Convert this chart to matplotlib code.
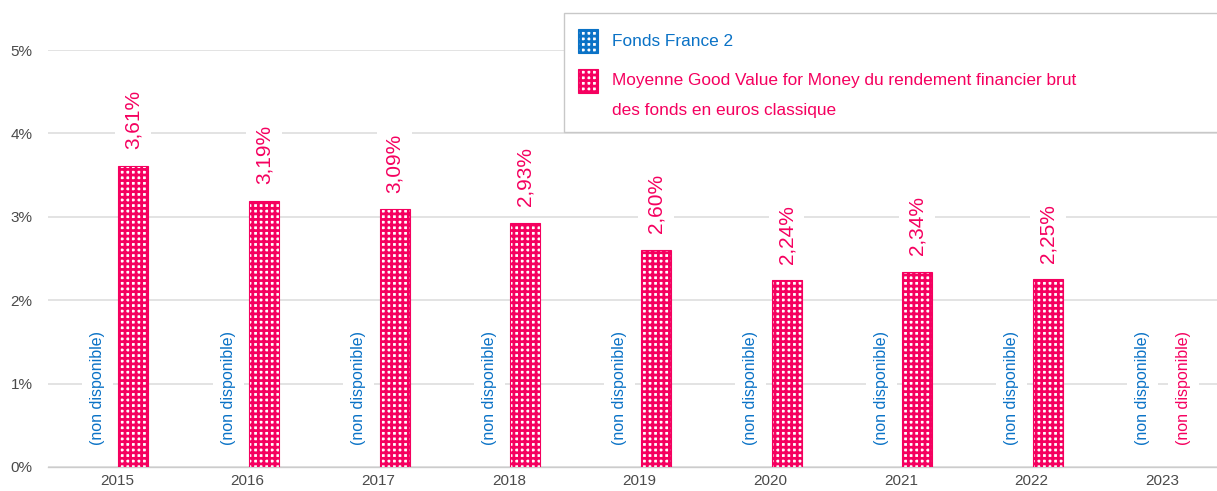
import matplotlib
matplotlib.use("Agg")
import matplotlib.pyplot as plt
from matplotlib.patches import Rectangle

plt.rcParams['font.family'] = ['Liberation Sans', 'DejaVu Sans']
plt.rcParams['hatch.linewidth'] = 2.0

years = ["2015", "2016", "2017", "2018", "2019", "2020", "2021", "2022", "2023"]
fonds_france2 = [None, None, None, None, None, None, None, None, None]
moyenne_gvm = [3.61, 3.19, 3.09, 2.93, 2.60, 2.24, 2.34, 2.25, None]
yticks = [0, 1, 2, 3, 4, 5]
series_names = ["Fonds France 2",
                "Moyenne Good Value for Money du rendement financier brut\ndes fonds en euros classique"]

BLUE = "#0a72c6"
PINK = "#f5005f"
W, H = 1217, 491

fig = plt.figure(figsize=(W / 100, H / 100), dpi=100)
ax = fig.add_axes([48 / W, 24 / H, (W - 48) / W, (467 - 50) / H])

xs = list(range(len(years)))
off_blue, off_pink = -0.15, 0.125
bw = 0.23

for i, v in enumerate(moyenne_gvm):
    x = xs[i] + off_pink
    if v is None:
        ax.annotate("(non disponible)", (x + 0.04, 0), xytext=(0, 16), textcoords="offset points",
                    rotation=90, ha="center", va="bottom", color=PINK, fontsize=11.5, zorder=4,
                    bbox=dict(boxstyle="square,pad=0.5", fc="white", ec="none"))
    else:
        ax.bar(x, v, width=bw, facecolor="white", edgecolor=PINK, hatch="+++", linewidth=0.8, zorder=3)
        ax.annotate(f"{v:.2f}%".replace(".", ","), (x, v), xytext=(0, 12), textcoords="offset points",
                    rotation=90, ha="center", va="bottom", color=PINK, fontsize=15, zorder=4,
                    bbox=dict(boxstyle="square,pad=0.4", fc="white", ec="none"))

for i, v in enumerate(fonds_france2):
    x = xs[i] + off_blue
    if v is None:
        ax.annotate("(non disponible)", (x, 0), xytext=(0, 16), textcoords="offset points",
                    rotation=90, ha="center", va="bottom", color=BLUE, fontsize=11.5, zorder=4,
                    bbox=dict(boxstyle="square,pad=0.5", fc="white", ec="none"))
    else:
        ax.bar(x, v, width=bw, facecolor="white", edgecolor=BLUE, hatch="+++", linewidth=0.8, zorder=3)

ax.set_xlim(-0.528, 8.42)
ax.set_ylim(0, 5)
ax.set_yticks(yticks)
ax.set_yticklabels([f"{t}%" for t in yticks])
ax.set_xticks(xs)
ax.set_xticklabels(years)
ax.tick_params(axis="both", length=0, labelsize=11, colors="#4a4a4a")
ax.tick_params(axis="y", pad=11)
ax.tick_params(axis="x", pad=5)
ax.grid(axis="y", color="#e0e0e0", linewidth=1.3, zorder=0)
ax.set_axisbelow(True)
for s in ["top", "right", "left"]:
    ax.spines[s].set_visible(False)
ax.spines["bottom"].set_color("#cccccc")
ax.spines["bottom"].set_linewidth(1.0)
ax.patch.set_alpha(0)

# legend box
fig.patches.append(Rectangle((564 / W, 1 - 132 / H), (W - 564 + 5) / W, (132 - 13) / H,
                             transform=fig.transFigure, facecolor="white", edgecolor="#c8c8c8",
                             linewidth=1.0, zorder=5))
for (col, name, yc, yt) in [(BLUE, series_names[0], 41, 41), (PINK, series_names[1], 81, 96)]:
    fig.patches.append(Rectangle((578 / W, 1 - (yc + 12) / H), 20 / W, 24 / H,
                                 transform=fig.transFigure, facecolor="white", edgecolor=col,
                                 hatch="+++", linewidth=0.8, zorder=6))
    fig.text(612 / W, 1 - yt / H, name, color=col, fontsize=12.4, ha="left", va="center",
             linespacing=2.25, zorder=7)

fig.savefig("out.png", dpi=100)
